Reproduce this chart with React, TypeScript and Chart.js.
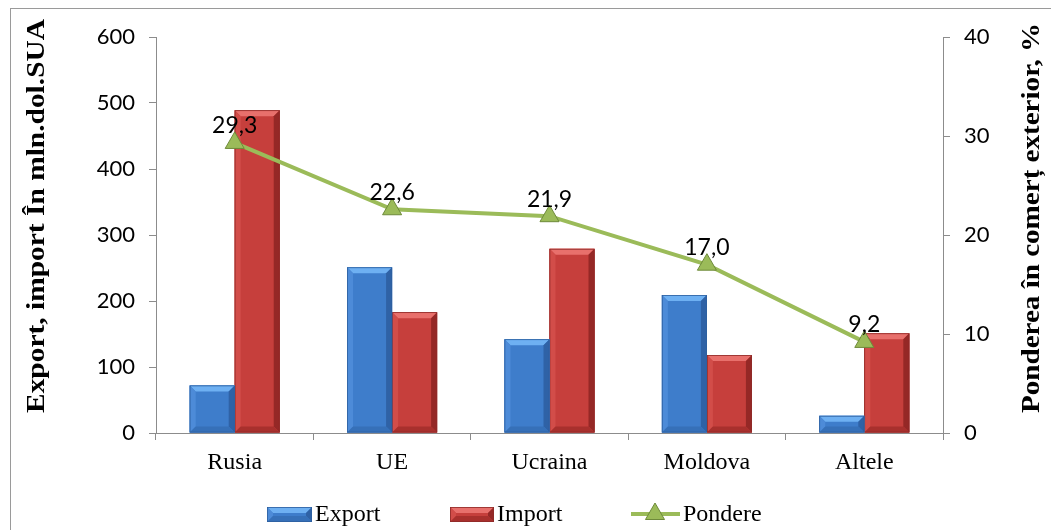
import React, { useEffect, useRef } from "react";
import { Chart, registerables } from "chart.js";

Chart.register(...registerables);

const categories = ["Rusia", "UE", "Ucraina", "Moldova", "Altele"];
const exportValues = [72, 251, 142, 209, 26];
const importValues = [489, 183, 279, 118, 151];
const pondereValues = [29.3, 22.6, 21.9, 17.0, 9.2];
const seriesNames = ["Export", "Import", "Pondere"];
const leftTitle = "Export, import În mln.dol.SUA";
const rightTitle = "Ponderea în comerț exterior, %";

const BLUE = { face: "#3E7DCB", top: "#6EB0F2", left: "#4D8BD8", right: "#2F62A6", bottom: "#3670B8", edge: "#2D5F9F" };
const RED = { face: "#C63F3C", top: "#E8706C", left: "#D24D49", right: "#952826", bottom: "#A8302D", edge: "#8E2B29" };
const GREEN = "#9BBB59";
const GREEN_DARK = "#6E8A3A";
const AXIS = "#8C8C8C";
const TICK_FONT = "Lato, 'Open Sans', sans-serif";
const SERIF = "'Liberation Serif', 'Times New Roman', serif";

type Pal = typeof BLUE;

function bevelRect(ctx: CanvasRenderingContext2D, l: number, t: number, r: number, b: number, p: Pal) {
  const w = r - l;
  const h = b - t;
  const s = Math.max(0, Math.min(6, w / 2, h / 2));
  ctx.save();
  ctx.fillStyle = p.face;
  ctx.fillRect(l, t, w, h);
  const poly = (pts: number[][], c: string) => {
    ctx.beginPath();
    ctx.moveTo(pts[0][0], pts[0][1]);
    for (let i = 1; i < pts.length; i++) ctx.lineTo(pts[i][0], pts[i][1]);
    ctx.closePath();
    ctx.fillStyle = c;
    ctx.fill();
  };
  poly([[l, t], [r, t], [r - s, t + s], [l + s, t + s]], p.top);
  poly([[l, t], [l + s, t + s], [l + s, b - s], [l, b]], p.left);
  poly([[r, t], [r - s, t + s], [r - s, b - s], [r, b]], p.right);
  poly([[l, b], [l + s, b - s], [r - s, b - s], [r, b]], p.bottom);
  ctx.strokeStyle = p.edge;
  ctx.lineWidth = 0.8;
  ctx.strokeRect(l + 0.4, t + 0.4, w - 0.8, h - 0.8);
  ctx.restore();
}

const bevelPlugin = {
  id: "bevelBars",
  afterDatasetDraw(chart: any, args: any) {
    const meta = args.meta;
    if (meta.type !== "bar") return;
    const pal = args.index === 0 ? BLUE : RED;
    const ctx = chart.ctx;
    meta.data.forEach((el: any) => {
      const { x, y, base, width } = el.getProps(["x", "y", "base", "width"], true);
      bevelRect(ctx, x - width / 2, Math.min(y, base), x + width / 2, Math.max(y, base), pal);
    });
  },
};

const labelsPlugin = {
  id: "extras",
  beforeDraw(chart: any) {
    const ctx = chart.ctx;
    ctx.save();
    ctx.fillStyle = "#ffffff";
    ctx.fillRect(0, 0, chart.width, chart.height);
    ctx.strokeStyle = "#9A9A9A";
    ctx.lineWidth = 1;
    ctx.strokeRect(10.5, 8.5, chart.width + 20, chart.height + 20);
    ctx.restore();
  },
  afterDatasetsDraw(chart: any) {
    const ctx = chart.ctx;
    const lineIdx = chart.data.datasets.findIndex((d: any) => d.type === "line");
    const meta = chart.getDatasetMeta(lineIdx);
    ctx.save();
    ctx.font = `23px ${TICK_FONT}`;
    ctx.fillStyle = "#000";
    ctx.textAlign = "center";
    ctx.textBaseline = "middle";
    meta.data.forEach((pt: any, i: number) => {
      const v = chart.data.datasets[lineIdx].data[i] as number;
      ctx.fillText(v.toFixed(1).replace(".", ","), pt.x, pt.y - 17);
    });
    ctx.restore();
  },
  afterDraw(chart: any) {
    const ctx = chart.ctx;
    ctx.save();
    const drawTitle = (text: string, cx: number, cy: number, len: number) => {
      ctx.save();
      ctx.translate(cx, cy);
      ctx.rotate(-Math.PI / 2);
      ctx.font = `bold 25px ${SERIF}`;
      const m = ctx.measureText(text).width;
      ctx.scale(len / m, 1);
      ctx.fillStyle = "#000";
      ctx.textAlign = "center";
      ctx.textBaseline = "middle";
      ctx.fillText(text, 0, 0);
      ctx.restore();
    };
    drawTitle(leftTitle, 38, 216, 394);
    drawTitle(rightTitle, 1033, 218, 390);

    const ly = 514;
    ctx.font = `24px ${SERIF}`;
    ctx.fillStyle = "#000";
    ctx.textBaseline = "middle";
    ctx.textAlign = "left";
    bevelRect(ctx, 267, ly - 7, 312, ly + 8, BLUE);
    ctx.fillStyle = "#000";
    ctx.fillText(seriesNames[0], 315, ly + 1);
    bevelRect(ctx, 450, ly - 7, 494, ly + 8, RED);
    ctx.fillStyle = "#000";
    ctx.fillText(seriesNames[1], 497, ly + 1);
    ctx.strokeStyle = GREEN;
    ctx.lineWidth = 4;
    ctx.beginPath();
    ctx.moveTo(631, ly);
    ctx.lineTo(680, ly);
    ctx.stroke();
    const r = 11;
    ctx.beginPath();
    ctx.moveTo(655, ly - r);
    ctx.lineTo(655 + r * 0.866, ly + r / 2);
    ctx.lineTo(655 - r * 0.866, ly + r / 2);
    ctx.closePath();
    ctx.fillStyle = GREEN;
    ctx.fill();
    ctx.strokeStyle = GREEN_DARK;
    ctx.lineWidth = 1;
    ctx.stroke();
    ctx.fillStyle = "#000";
    ctx.fillText(seriesNames[2], 683, ly + 1);
    ctx.restore();
  },
};

export default function App() {
  const ref = useRef<HTMLCanvasElement | null>(null);
  useEffect(() => {
    if (!ref.current) return;
    const chart = new Chart(ref.current, {
      type: "bar",
      data: {
        labels: categories,
        datasets: [
          {
            type: "bar",
            label: seriesNames[0],
            data: exportValues,
            backgroundColor: BLUE.face,
            yAxisID: "y",
            order: 2,
            barPercentage: 1,
            categoryPercentage: 0.572,
          },
          {
            type: "bar",
            label: seriesNames[1],
            data: importValues,
            backgroundColor: RED.face,
            yAxisID: "y",
            order: 2,
            barPercentage: 1,
            categoryPercentage: 0.572,
          },
          {
            type: "line",
            label: seriesNames[2],
            data: pondereValues,
            borderColor: GREEN,
            borderWidth: 4,
            backgroundColor: GREEN,
            pointStyle: "triangle",
            pointRadius: 11,
            pointBackgroundColor: GREEN,
            pointBorderColor: GREEN_DARK,
            pointBorderWidth: 1,
            yAxisID: "y1",
            order: 0,
            tension: 0,
          } as any,
        ],
      },
      options: {
        animation: false,
        responsive: true,
        maintainAspectRatio: false,
        layout: { padding: { top: 37, left: 0, right: 0, bottom: 0 } },
        plugins: { legend: { display: false }, tooltip: { enabled: false } },
        scales: {
          x: {
            offset: true,
            grid: { display: true, offset: true, drawOnChartArea: false, drawTicks: true, tickLength: 7, color: AXIS },
            border: { display: true, color: AXIS, width: 1 },
            ticks: { font: { family: SERIF, size: 24 }, color: "#000", padding: 8 },
            afterFit: (s: any) => { s.height = 97; },
          },
          y: {
            position: "left",
            min: 0,
            max: 600,
            ticks: { stepSize: 100, font: { family: TICK_FONT, size: 22 }, color: "#000", padding: 14 },
            grid: { display: true, drawOnChartArea: false, drawTicks: true, tickLength: 7, color: AXIS },
            border: { display: true, color: AXIS, width: 1 },
            afterFit: (s: any) => { s.width = 156; },
          },
          y1: {
            position: "right",
            min: 0,
            max: 40,
            ticks: { stepSize: 10, font: { family: TICK_FONT, size: 22 }, color: "#000", padding: 14 },
            grid: { display: true, drawOnChartArea: false, drawTicks: true, tickLength: 7, color: AXIS },
            border: { display: true, color: AXIS, width: 1 },
            afterFit: (s: any) => { s.width = 108; },
          },
        },
      },
      plugins: [bevelPlugin, labelsPlugin],
    });
    return () => chart.destroy();
  }, []);
  return (
    <div style={{ position: "fixed", left: 0, top: 0, width: 1051, height: 530 }}>
      <canvas ref={ref} />
    </div>
  );
}
